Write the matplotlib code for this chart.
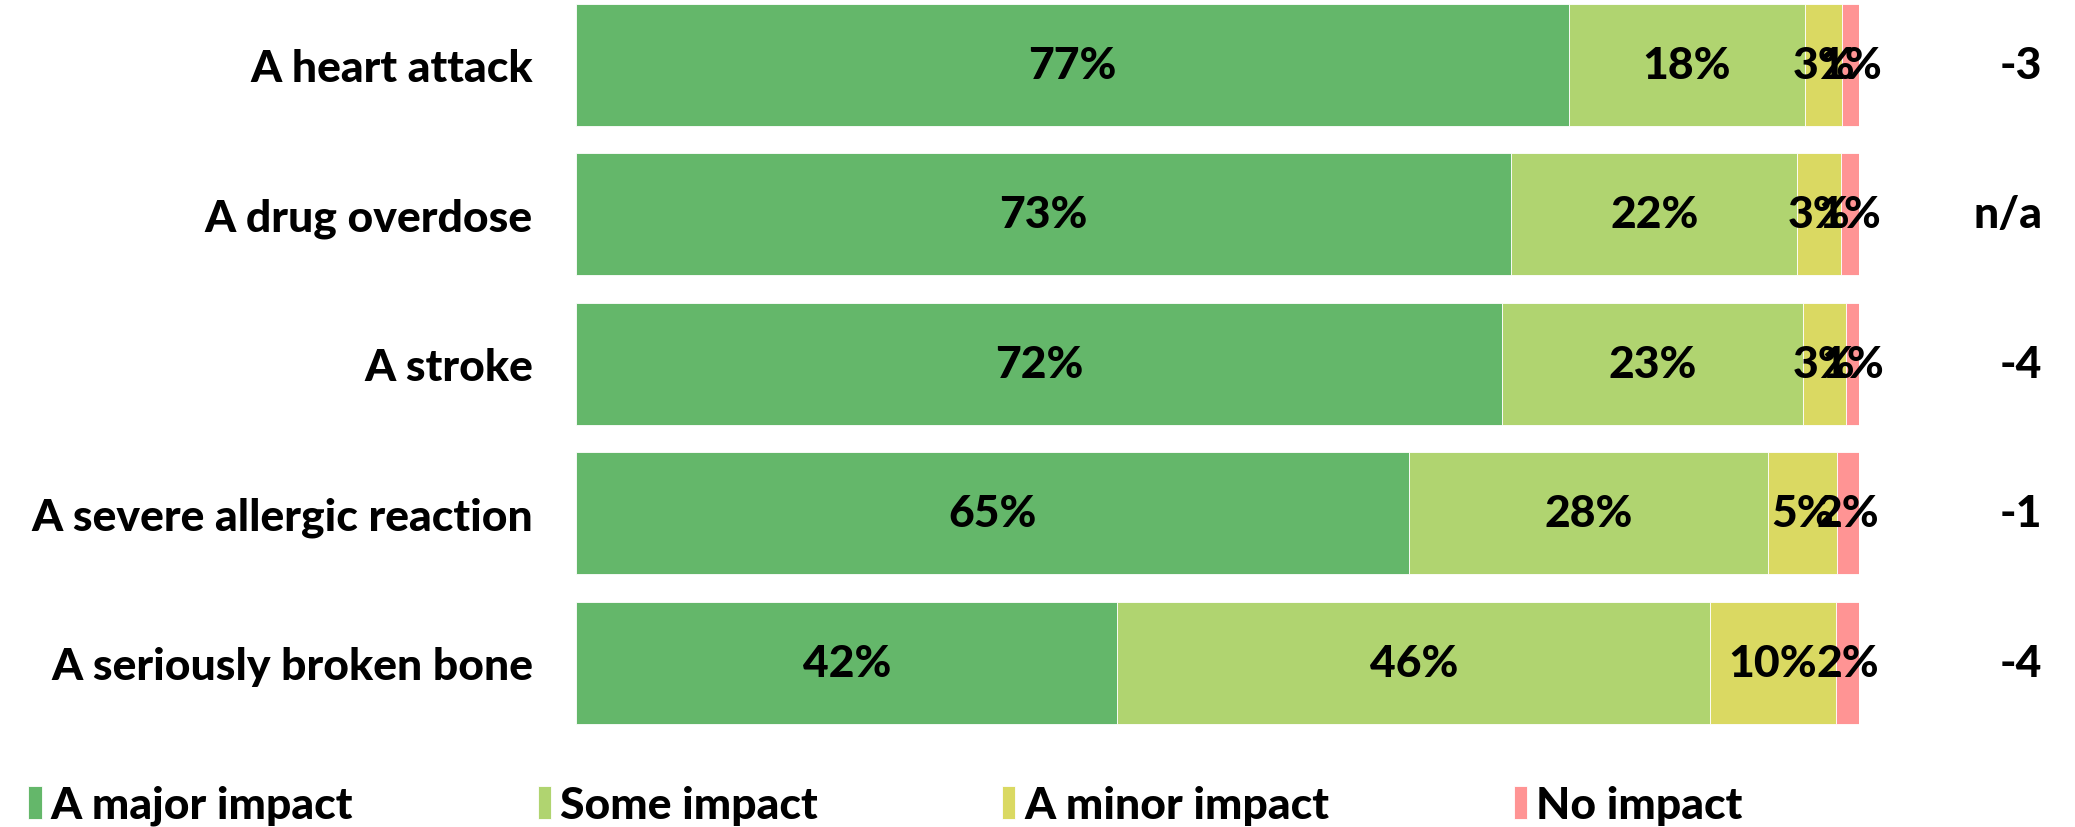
import matplotlib.pyplot as plt
from matplotlib.transforms import blended_transform_factory

plt.rcParams['font.family'] = ['Lato', 'DejaVu Sans']
plt.rcParams['font.weight'] = 'black'

categories = ['A heart attack', 'A drug overdose', 'A stroke',
              'A severe allergic reaction', 'A seriously broken bone']
major = [77.4, 72.9, 72.2, 64.9, 42.2]
some = [18.4, 22.3, 23.4, 28.0, 46.2]
minor = [2.9, 3.4, 3.4, 5.4, 9.8]
none_ = [1.3, 1.4, 1.0, 1.7, 1.8]
change = ['-3', 'n/a', '-4', '-1', '-4']

series = ['A major impact', 'Some impact', 'A minor impact', 'No impact']
colors = ['#64b76a', '#b0d470', '#dad962', '#ff9494']

fs = 32
fig = plt.figure(figsize=(20.75, 8.28), dpi=100)
ax = fig.add_axes([576 / 2075, 1 - 738.75 / 828, (1859 - 576) / 2075, 738.55 / 828])

y = range(len(categories))
left = [0] * len(categories)
for name, vals, c in zip(series, [major, some, minor, none_], colors):
    bars = ax.barh(y, vals, left=left, height=0.816, color=c, label=name,
                   edgecolor='white', linewidth=0.6)
    ax.bar_label(bars, labels=[f'{round(v)}%' for v in vals], label_type='center',
                 fontsize=fs, fontweight='black', color='black')
    left = [l + v for l, v in zip(left, vals)]

ax.set_xlim(0, 100)
ax.set_ylim(4.5, -0.44)
ax.set_yticks(list(y))
ax.set_yticklabels(categories, fontsize=fs, fontweight='black')
ax.tick_params(axis='y', length=0, pad=31)
ax.set_xticks([])
for s in ax.spines.values():
    s.set_visible(False)

trans = blended_transform_factory(fig.transFigure, ax.transData)
for i, txt in enumerate(change):
    ax.text(2042 / 2075, i, txt, transform=trans, ha='right', va='center',
            fontsize=fs, fontweight='black')

fig.legend(loc='lower left', bbox_to_anchor=(0.003, -0.025), ncol=4, frameon=False,
           fontsize=fs, handlelength=0.3, handleheight=0.75, handletextpad=0.2,
           columnspacing=4.15, borderaxespad=0.2, borderpad=0.3)

fig.savefig('out.png', dpi=100)
